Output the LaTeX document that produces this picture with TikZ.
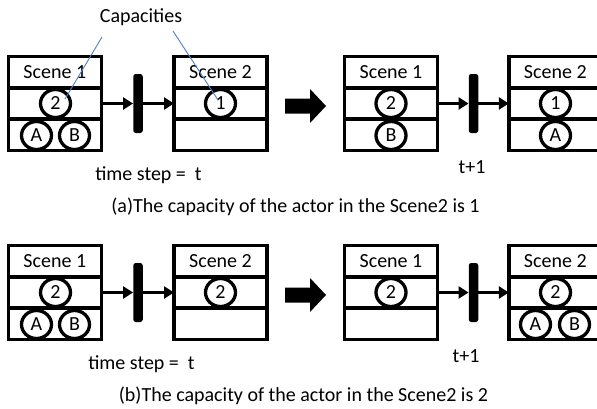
\documentclass[tikz,border=0pt]{standalone}
\usepackage{fontspec}
\setmainfont{Carlito}
\usetikzlibrary{shapes.geometric,arrows.meta}
\definecolor{leadblue}{HTML}{4F81BD}
\newcommand\scenebox[4]{%
  \node[rowbox,minimum height=31.5pt] (#1t) at (#2,#3+15.75) {#4};
  \node[rowbox,minimum height=31pt]   (#1m) at (#2,#3+47) {};
  \node[rowbox,minimum height=31.5pt] (#1b) at (#2,#3+78.25) {};
}
\begin{document}
\begin{tikzpicture}[x=1pt,y=-1pt,
  every node/.style={font=\fontsize{20}{24}\selectfont},
  rowbox/.style={draw,line width=3.5pt,minimum width=93pt,inner sep=0pt,outer sep=0pt},
  actor/.style={ellipse,draw,fill=white,line width=3.3pt,minimum width=30pt,minimum height=28pt,inner sep=0pt},
  barnode/.style={fill=black,rounded corners=2.5pt,minimum width=9.5pt,minimum height=59pt,inner sep=0pt},
  conn/.style={line width=3.5pt,-{Triangle[length=10pt,width=12pt]}},
  leader/.style={draw=leadblue,line width=0.9pt},
  bigarrow/.style={fill=black},
  txt/.style={anchor=base,inner sep=0pt}
]
\useasboundingbox (0,0) rectangle (597,408);
\clip (0,0) rectangle (597,408);

% ---------- (a) ----------
\scenebox{a1}{54.8}{56.5}{Scene 1}
\scenebox{a2}{220.5}{56.5}{Scene 2}
\scenebox{a3}{391}{56.5}{Scene 1}
\scenebox{a4}{555.3}{56.5}{Scene 2}

\node[barnode] (abar1) at (138,103.5) {};
\node[barnode] (abar2) at (473.5,103.5) {};

\draw[conn] (a1m.east) -- (a1m.east -| abar1.west);
\draw[conn] (abar1.east) -- (abar1.east -| a2m.west);
\draw[conn] (a3m.east) -- (a3m.east -| abar2.west);
\draw[conn] (abar2.east) -- (abar2.east -| a4m.west);

\node[actor] (ac12) at (55.5,103.5) {2};
\node[actor] (ac1A) at (36.5,135.5) {A};
\node[actor] (ac1B) at (74.5,135.5) {B};
\node[actor] (ac21) at (220.5,103.5) {1};
\node[actor] (ac32) at (391,103.5) {2};
\node[actor] (ac3B) at (391,135.5) {B};
\node[actor] (ac41) at (555.5,103.5) {1};
\node[actor] (ac4A) at (555.5,135.5) {A};

\fill[bigarrow] (285,98.5) -- (310,98.5) -- (310,89) -- (326,106) -- (310,123) -- (310,113.5) -- (285,113.5) -- cycle;

\node[txt] (capl) at (141,22.7) {Capacities};
\coordinate (capA) at (102,37);
\coordinate (capB) at (173,31);
\coordinate (tipA) at (65,99);
\coordinate (tipB) at (218,100);
\draw[leader] (capA) -- (tipA);
\draw[leader] (capB) -- (tipB);

\node[txt] (ats) at (148.5,180) {time step =\ \ t};
\node[txt] (at1) at (472,173) {t+1};
\node[txt] (acap) at (295.5,212) {(a)The capacity of the actor in the Scene2 is 1};

% ---------- (b) ----------
\scenebox{b1}{54.8}{245.5}{Scene 1}
\scenebox{b2}{220.5}{245.5}{Scene 2}
\scenebox{b3}{391}{245.5}{Scene 1}
\scenebox{b4}{555.3}{245.5}{Scene 2}

\node[barnode] (bbar1) at (138,292.5) {};
\node[barnode] (bbar2) at (473.5,292.5) {};

\draw[conn] (b1m.east) -- (b1m.east -| bbar1.west);
\draw[conn] (bbar1.east) -- (bbar1.east -| b2m.west);
\draw[conn] (b3m.east) -- (b3m.east -| bbar2.west);
\draw[conn] (bbar2.east) -- (bbar2.east -| b4m.west);

\node[actor] (bc12) at (55.5,292.5) {2};
\node[actor] (bc1A) at (36.5,324.5) {A};
\node[actor] (bc1B) at (74.5,324.5) {B};
\node[actor] (bc22) at (220.5,292.5) {2};
\node[actor] (bc32) at (391,292.5) {2};
\node[actor] (bc42) at (555.5,292.5) {2};
\node[actor] (bc4A) at (535.5,324.5) {A};
\node[actor] (bc4B) at (574.5,324.5) {B};

\fill[bigarrow] (285,287.5) -- (310,287.5) -- (310,278) -- (326,295) -- (310,312) -- (310,302.5) -- (285,302.5) -- cycle;

\node[txt] (bts) at (141.5,369) {time step =\ \ t};
\node[txt] (bt1) at (466,362) {t+1};
\node[txt] (bcap) at (303.5,401) {(b)The capacity of the actor in the Scene2 is 2};
\end{tikzpicture}
\end{document}
